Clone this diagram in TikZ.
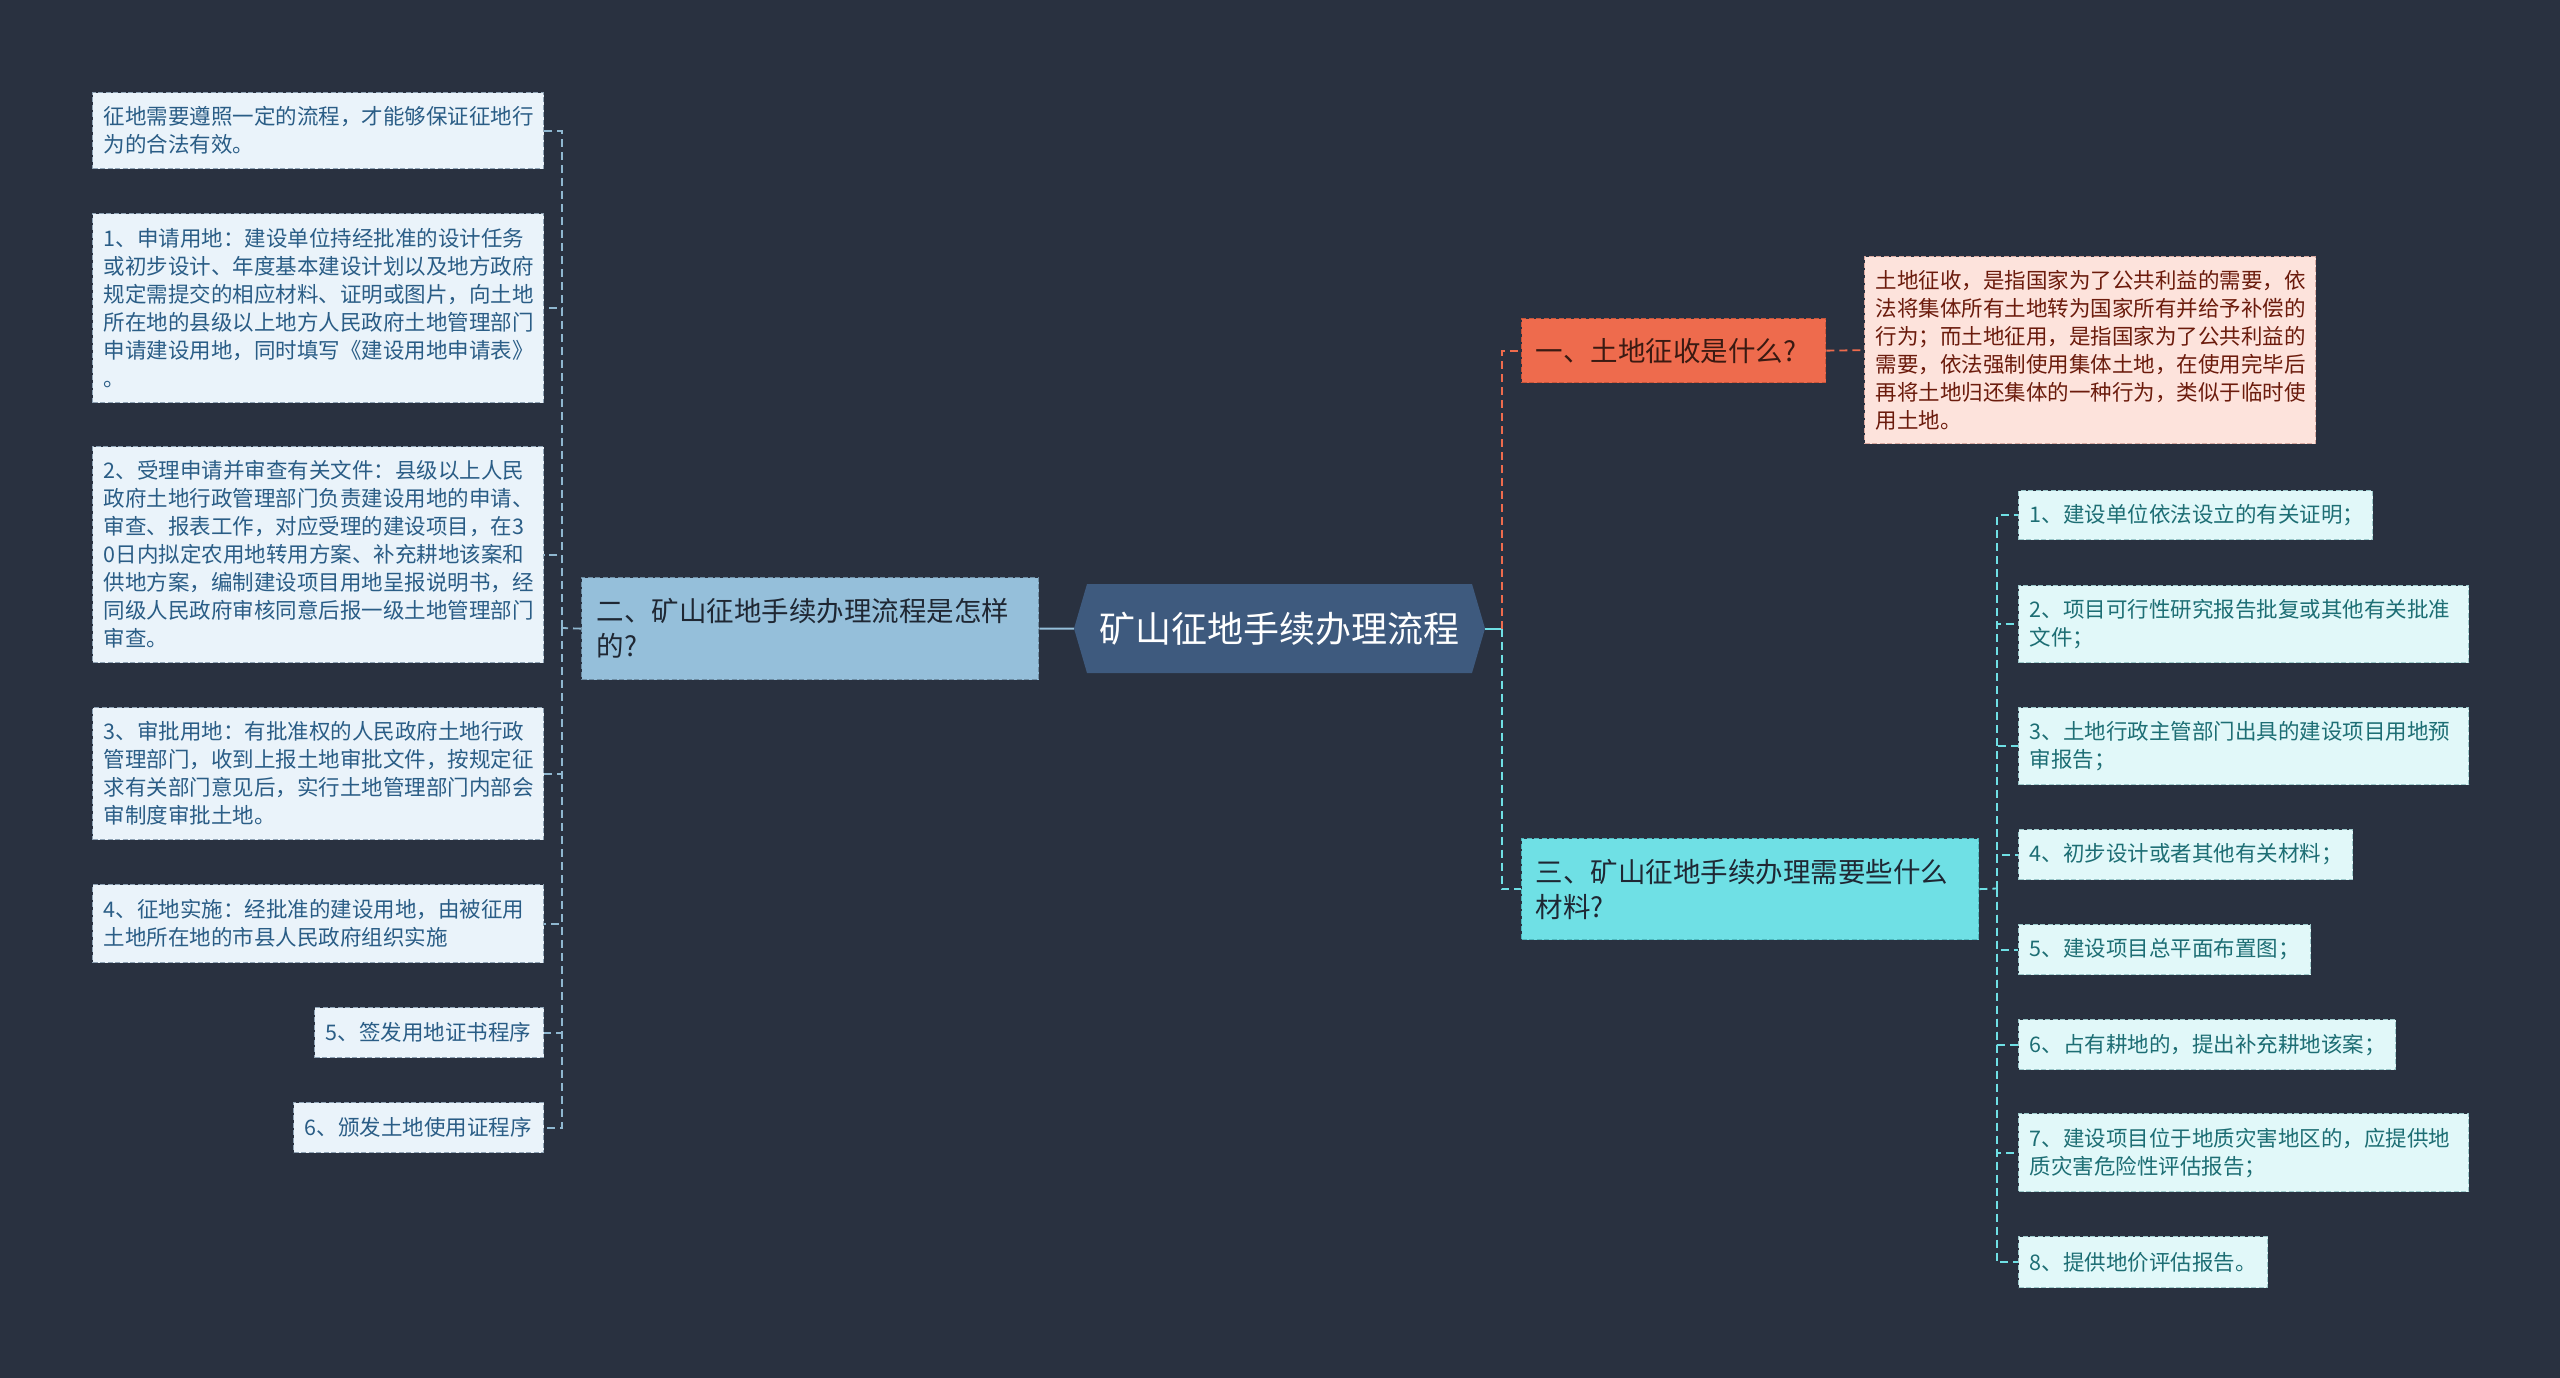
\documentclass[tikz,border=0pt]{standalone}
\usepackage{fontspec}
\setmainfont{Noto Sans CJK SC}
\usetikzlibrary{calc}
\definecolor{bgc}{HTML}{293140}
\definecolor{lfill}{HTML}{EAF3FA}
\definecolor{ldraw}{HTML}{8FA3B5}
\definecolor{ltext}{HTML}{2A5D86}
\definecolor{bfill}{HTML}{95BFDA}
\definecolor{bdraw}{HTML}{6E8DA3}
\definecolor{htext}{HTML}{1F2733}
\definecolor{hexfill}{HTML}{3E5A7E}
\definecolor{ofill}{HTML}{EE6B4D}
\definecolor{odraw}{HTML}{C9553A}
\definecolor{otext}{HTML}{3A1A12}
\definecolor{pfill}{HTML}{FDE3DC}
\definecolor{pdraw}{HTML}{D9A9A0}
\definecolor{ptext}{HTML}{6B1B0C}
\definecolor{cfill}{HTML}{6FE0E5}
\definecolor{cdraw}{HTML}{4FB8BD}
\definecolor{rfill}{HTML}{E1F8F9}
\definecolor{rdraw}{HTML}{9CC9CB}
\definecolor{rtext}{HTML}{1D6E74}
\definecolor{lcon}{HTML}{8FB7D0}
\newcommand\mmbox[8]{%
  \pgfmathsetmacro\mmw{#6-#4}%
  \pgfmathsetmacro\mmh{#7-#5}%
  \pgfmathsetmacro\mmtw{#6-#4-2*#3}%
  \node[#2, anchor=north west, inner xsep=#3pt, inner ysep=0pt,
        minimum width=\mmw pt, minimum height=\mmh pt, text width=\mmtw pt] (#1) at (#4,#5) {#8};}
\begin{document}
\begin{tikzpicture}[x=1pt,y=-1pt,
  smallfont/.style={font=\fontsize{21.5}{28}\selectfont, align=left},
  bigfont/.style={font=\fontsize{27.5}{35}\selectfont, align=left},
  boxdash/.style={dash pattern=on 5pt off 2.5pt, line width=1.3pt},
  leafL/.style={smallfont, boxdash, fill=lfill, draw=ldraw, text=ltext},
  leafR/.style={smallfont, boxdash, fill=rfill, draw=rdraw, text=rtext},
  leafP/.style={smallfont, boxdash, fill=pfill, draw=pdraw, text=ptext},
  headB/.style={bigfont, boxdash, fill=bfill, draw=bdraw, text=htext},
  headO/.style={bigfont, boxdash, fill=ofill, draw=odraw, text=otext},
  headC/.style={bigfont, boxdash, fill=cfill, draw=cdraw, text=htext},
  conbase/.style={line width=1.8pt, dash pattern=on 8pt off 5pt},
  conL/.style={conbase, draw=lcon},
  conO/.style={conbase, draw=ofill},
  conC/.style={conbase, draw=cfill},
]
\useasboundingbox (0,0) rectangle (2560,1378);
\fill[bgc] (0,0) rectangle (2560,1378);

% central topic
\fill[hexfill] (1074,628.5) -- (1087,584) -- (1472,584) -- (1485,628.5) -- (1472,673) -- (1087,673) -- cycle;
\node[minimum width=411pt, minimum height=89pt, inner sep=0pt, text=white,
      font=\fontsize{36}{40}\selectfont] (hex) at (1279.5,628.5) {矿山征地手续办理流程};

% main branches
\mmbox{n2}{headB}{15}{581}{577}{1038}{679}{二、矿山征地手续办理流程是怎样\\的?}
\mmbox{n1}{headO}{14}{1521}{318}{1825}{382}{一、土地征收是什么?}
\mmbox{n3}{headC}{14}{1521}{838}{1978}{939}{三、矿山征地手续办理需要些什么\\材料?}

% left leaves
\mmbox{L0}{leafL}{11}{92}{92}{543}{168}{征地需要遵照一定的流程，才能够保证征地行\\为的合法有效。}
\mmbox{L1}{leafL}{11}{92}{213}{543}{402}{1、申请用地：建设单位持经批准的设计任务\\或初步设计、年度基本建设计划以及地方政府\\规定需提交的相应材料、证明或图片，向土地\\所在地的县级以上地方人民政府土地管理部门\\申请建设用地，同时填写《建设用地申请表》\\。}
\mmbox{L2}{leafL}{11}{92}{446}{543}{662}{2、受理申请并审查有关文件：县级以上人民\\政府土地行政管理部门负责建设用地的申请、\\审查、报表工作，对应受理的建设项目，在3\\0日内拟定农用地转用方案、补充耕地该案和\\供地方案，编制建设项目用地呈报说明书，经\\同级人民政府审核同意后报一级土地管理部门\\审查。}
\mmbox{L3}{leafL}{11}{92}{707}{543}{839}{3、审批用地：有批准权的人民政府土地行政\\管理部门，收到上报土地审批文件，按规定征\\求有关部门意见后，实行土地管理部门内部会\\审制度审批土地。}
\mmbox{L4}{leafL}{11}{92}{884}{543}{962}{4、征地实施：经批准的建设用地，由被征用\\土地所在地的市县人民政府组织实施}
\mmbox{L5}{leafL}{11}{314}{1007}{543}{1057}{5、签发用地证书程序}
\mmbox{L6}{leafL}{11}{293}{1102}{543}{1152}{6、颁发土地使用证程序}

% description of branch 1
\mmbox{desc}{leafP}{11}{1864}{256}{2315}{443}{土地征收，是指国家为了公共利益的需要，依\\法将集体所有土地转为国家所有并给予补偿的\\行为；而土地征用，是指国家为了公共利益的\\需要，依法强制使用集体土地，在使用完毕后\\再将土地归还集体的一种行为，类似于临时使\\用土地。}

% right leaves
\mmbox{C1}{leafR}{11}{2018}{490}{2372}{539}{1、建设单位依法设立的有关证明；}
\mmbox{C2}{leafR}{11}{2018}{585}{2468}{662}{2、项目可行性研究报告批复或其他有关批准\\文件；}
\mmbox{C3}{leafR}{11}{2018}{707}{2468}{784}{3、土地行政主管部门出具的建设项目用地预\\审报告；}
\mmbox{C4}{leafR}{11}{2018}{829}{2352}{879}{4、初步设计或者其他有关材料；}
\mmbox{C5}{leafR}{11}{2018}{924}{2310}{974}{5、建设项目总平面布置图；}
\mmbox{C6}{leafR}{11}{2018}{1019}{2395}{1069}{6、占有耕地的，提出补充耕地该案；}
\mmbox{C7}{leafR}{11}{2018}{1113}{2468}{1191}{7、建设项目位于地质灾害地区的，应提供地\\质灾害危险性评估报告；}
\mmbox{C8}{leafR}{11}{2018}{1236}{2267}{1287}{8、提供地价评估报告。}

% connectors
\coordinate (lj) at (562,628);
\draw[line width=2pt, draw=bfill] (n2.east) -- (hex.west);
\draw[conL] (n2.west) -- (lj);
\foreach \c in {L0,L1,L2,L3,L4,L5,L6} \draw[conL] (lj) |- (\c.east);

\coordinate (rj) at (1502,628.5);
\draw[line width=2pt, draw=cfill] (hex.east) -- (rj);
\draw[conO] (rj) |- (n1.west);
\draw[conC] (rj) |- (n3.west);
\draw[conO] (n1.east) -- (desc.west);

\coordinate (mj) at (1997,888.5);
\draw[conC] (n3.east) -- (mj);
\foreach \c in {C1,C2,C3,C4,C5,C6,C7,C8} \draw[conC] (mj) |- (\c.west);
\end{tikzpicture}
\end{document}
